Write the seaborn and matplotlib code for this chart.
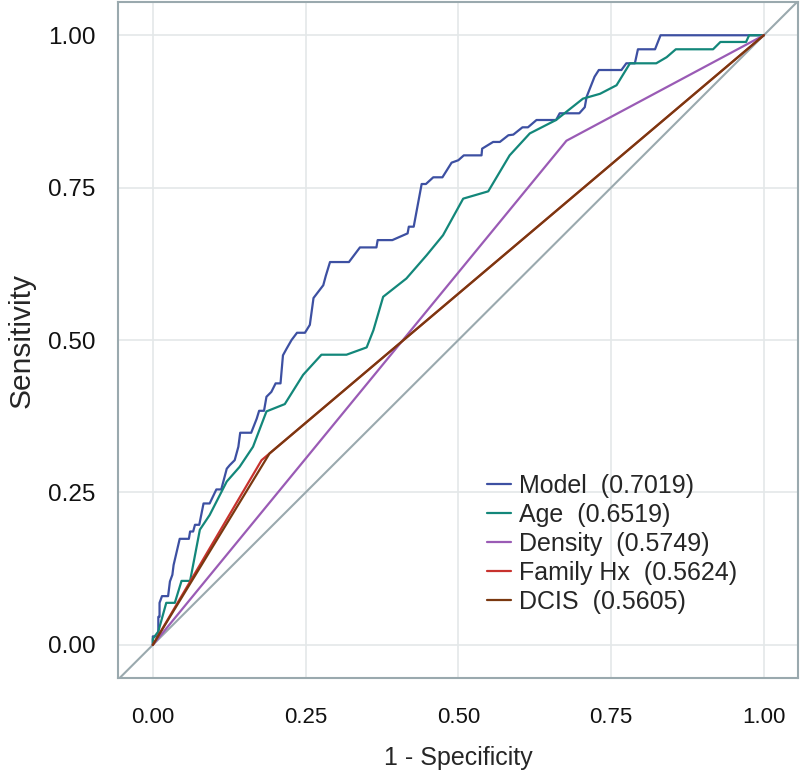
import matplotlib
matplotlib.use("Agg")
import matplotlib.pyplot as plt
import seaborn as sns

# ROC curve points (1 - specificity, sensitivity)
model_fpr = [0.0, 0.0, 0.009, 0.009, 0.011, 0.011, 0.015, 0.025, 0.028, 0.032, 0.034, 0.044,
             0.059, 0.061, 0.066, 0.069, 0.076, 0.083, 0.093, 0.104, 0.112, 0.121, 0.126,
             0.134, 0.140, 0.143, 0.161, 0.170, 0.174, 0.182, 0.186, 0.194, 0.201, 0.209,
             0.213, 0.219, 0.227, 0.236, 0.249, 0.257, 0.263, 0.279, 0.283, 0.290, 0.321,
             0.339, 0.366, 0.368, 0.392, 0.417, 0.419, 0.427, 0.440, 0.447, 0.459, 0.474,
             0.489, 0.500, 0.509, 0.538, 0.539, 0.557, 0.568, 0.582, 0.590, 0.605, 0.614,
             0.628, 0.660, 0.666, 0.698, 0.707, 0.710, 0.723, 0.730, 0.767, 0.775, 0.789,
             0.794, 0.822, 0.831, 1.0]
model_tpr = [0.0, 0.014, 0.014, 0.046, 0.046, 0.069, 0.080, 0.080, 0.104, 0.115, 0.131, 0.174,
             0.174, 0.186, 0.186, 0.197, 0.197, 0.232, 0.232, 0.255, 0.255, 0.289, 0.295,
             0.303, 0.325, 0.348, 0.348, 0.371, 0.384, 0.384, 0.407, 0.415, 0.429, 0.429,
             0.475, 0.486, 0.500, 0.512, 0.512, 0.525, 0.569, 0.590, 0.605, 0.628, 0.628,
             0.652, 0.652, 0.664, 0.664, 0.675, 0.686, 0.686, 0.756, 0.756, 0.767, 0.767,
             0.791, 0.795, 0.803, 0.803, 0.814, 0.825, 0.825, 0.836, 0.837, 0.849, 0.849,
             0.861, 0.861, 0.872, 0.872, 0.882, 0.899, 0.932, 0.943, 0.943, 0.954, 0.954,
             0.977, 0.977, 1.0, 1.0]

age_fpr = [0.0, 0.0, 0.009, 0.022, 0.036, 0.047, 0.061, 0.077, 0.093, 0.121, 0.142, 0.164,
           0.186, 0.216, 0.246, 0.276, 0.317, 0.350, 0.361, 0.377, 0.415, 0.448, 0.475,
           0.508, 0.549, 0.584, 0.617, 0.660, 0.704, 0.732, 0.759, 0.781, 0.824, 0.841,
           0.856, 0.917, 0.929, 0.971, 0.976, 1.0]
age_tpr = [0.0, 0.010, 0.022, 0.069, 0.069, 0.105, 0.105, 0.189, 0.213, 0.268, 0.292, 0.325,
           0.383, 0.395, 0.443, 0.476, 0.476, 0.488, 0.516, 0.571, 0.601, 0.639, 0.672,
           0.732, 0.744, 0.803, 0.839, 0.861, 0.896, 0.904, 0.918, 0.954, 0.954, 0.964,
           0.977, 0.977, 0.989, 0.989, 1.0, 1.0]

density_fpr = [0.0, 0.677, 1.0]
density_tpr = [0.0, 0.827, 1.0]

famhx_fpr = [0.0, 0.178, 1.0]
famhx_tpr = [0.0, 0.303, 1.0]

dcis_fpr = [0.0, 0.191, 1.0]
dcis_tpr = [0.0, 0.314, 1.0]

labels = ["Model  (0.7019)", "Age  (0.6519)", "Density  (0.5749)",
          "Family Hx  (0.5624)", "DCIS  (0.5605)"]
colors = ["#3d50a2", "#13877a", "#9a5bb5", "#c8322e", "#7a3810"]

sns.set_style("white")
plt.rcParams["font.family"] = ["Liberation Sans", "DejaVu Sans"]

fig = plt.figure(figsize=(8, 7.8), dpi=100)
ax = fig.add_axes([0.1475, 0.131, 0.85, 0.866])

edge = "#9aa9ae"
ax.plot([-0.1, 1.1], [-0.1, 1.1], color=edge, lw=1.5, zorder=1)

series = [(model_fpr, model_tpr), (age_fpr, age_tpr), (density_fpr, density_tpr),
          (famhx_fpr, famhx_tpr), (dcis_fpr, dcis_tpr)]
for (fx, ty), lab, col in zip(series, labels, colors):
    sns.lineplot(x=fx, y=ty, sort=False, estimator=None, color=col, lw=1.6,
                 label=lab, ax=ax, zorder=3)

ax.set_xlim(-0.057, 1.056)
ax.set_ylim(-0.054, 1.054)
ticks = [0.0, 0.25, 0.5, 0.75, 1.0]
ax.set_xticks(ticks)
ax.set_yticks(ticks)
ax.set_xticklabels([f"{t:.2f}" for t in ticks])
ax.set_yticklabels([f"{t:.2f}" for t in ticks])
ax.grid(True, color="#e4e8e9", lw=1.2)
ax.set_axisbelow(True)
for s in ax.spines.values():
    s.set_color(edge)
    s.set_linewidth(1.5)
ax.tick_params(axis="both", direction="out", length=9, width=1.5, color=edge,
               labelcolor="#111111")
ax.tick_params(axis="y", labelsize=17.5, pad=7)
ax.tick_params(axis="x", labelsize=16, pad=12)
ax.set_xlabel("1 - Specificity", fontsize=18, labelpad=13)
ax.set_ylabel("Sensitivity", fontsize=21.5, labelpad=9)

leg = ax.legend(loc="upper left", bbox_to_anchor=(0.543, 0.302), frameon=False,
                fontsize=18, handlelength=0.96, handletextpad=0.32, labelspacing=0.2,
                borderaxespad=0, borderpad=0)

fig.savefig("out.png", dpi=100)
